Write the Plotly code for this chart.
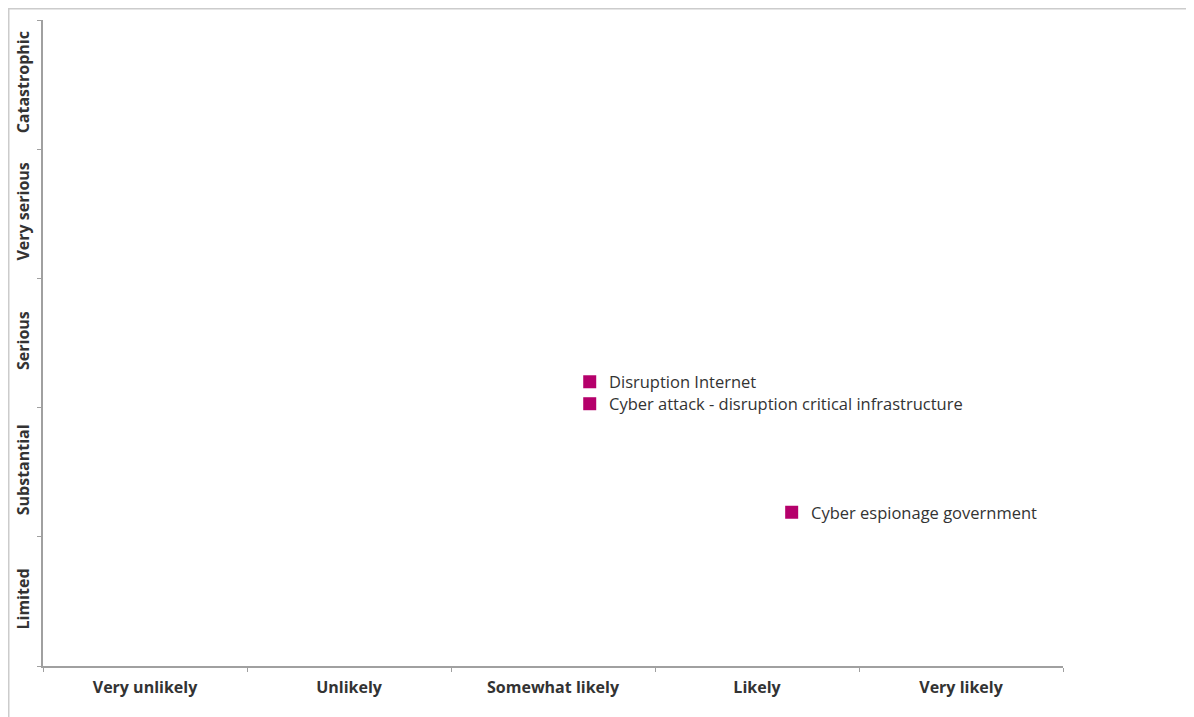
import plotly.graph_objects as go

likelihood_labels = ["Very unlikely", "Unlikely", "Somewhat likely", "Likely", "Very likely"]
impact_labels = ["Limited", "Substantial", "Serious", "Very serious", "Catastrophic"]

risk_names = ["Disruption Internet", "Cyber attack - disruption critical infrastructure", "Cyber espionage government"]
risk_likelihood = [2.68, 2.68, 3.67]
risk_impact = [2.2, 2.03, 1.19]

# page has an 8px body margin; compensate so plot lands where the reference's does
L, R, T, B = 35, 131, 12, 51
pw, ph = 1020, 646
W, H = L + pw + R, T + ph + B

fig = go.Figure()
fig.add_trace(go.Scatter(
    x=risk_likelihood, y=risk_impact, mode="markers",
    marker=dict(symbol="square", size=13, color="#b5006b"),
    hovertext=risk_names, hoverinfo="text", showlegend=False, cliponaxis=False,
))
for nm, xv, yv in zip(risk_names, risk_likelihood, risk_impact):
    fig.add_annotation(x=xv, y=yv, text=nm, showarrow=False, xanchor="left", yanchor="middle",
                       xshift=17, font=dict(family="Open Sans, Noto Sans, sans-serif", size=16.5, color="#333333"))

axis_common = dict(
    range=[0, 5], showgrid=False, zeroline=False, showline=True, automargin=False,
    linecolor="#a0a0a0", linewidth=1.5, ticks="", fixedrange=True,
    tickfont=dict(family="Open Sans, Noto Sans, sans-serif", size=16, color="#333333", weight="bold"),
    minor=dict(tickvals=[0, 1, 2, 3, 4, 5], ticks="outside", ticklen=4, tickcolor="#a0a0a0", tickwidth=1),
)

fig.update_xaxes(tickvals=[0.5, 1.5, 2.5, 3.5, 4.5], ticktext=likelihood_labels, ticklabelstandoff=6, **axis_common)
fig.update_yaxes(tickvals=[0.5, 1.5, 2.5, 3.5, 4.5], ticktext=impact_labels, tickangle=-90, ticklabelstandoff=6, **axis_common)

# light frame around the figure (left, top, right)
def px_x(p):
    return (p - L) / pw
def px_y(p):
    return (H - B - p) / ph
frame = dict(type="line", xref="paper", yref="paper", line=dict(color="#cccccc", width=1.5), layer="below")
fig.add_shape(x0=px_x(0.75), x1=px_x(0.75), y0=px_y(H), y1=px_y(0), **frame)
fig.add_shape(x0=px_x(0), x1=px_x(1184), y0=px_y(0.75), y1=px_y(0.75), **frame)
fig.add_shape(x0=px_x(1184), x1=px_x(1184), y0=px_y(H), y1=px_y(0), **frame)

fig.update_layout(
    width=W, height=H, margin=dict(l=L, r=R, t=T, b=B, autoexpand=False),
    paper_bgcolor="white", plot_bgcolor="white",
)

fig.write_html("out.html")
